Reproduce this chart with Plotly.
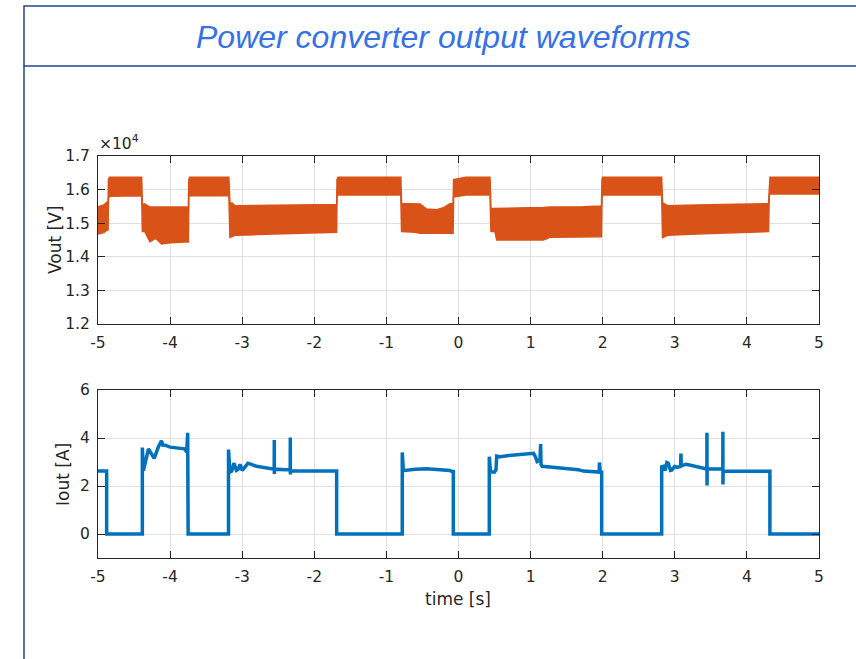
import plotly.graph_objects as go

# ---------------- data ----------------
# Vout envelope (volts) of the dense switching band
vout_t = [-5.00, -4.95, -4.92, -4.87, -4.86, -4.855, -4.84, -4.60, -4.40, -4.394,
          -4.385, -4.35, -4.28, -4.20, -4.12, -4.00, -3.80, -3.747, -3.74, -3.73,
          -3.50, -3.20, -3.185, -3.17, -3.14, -3.10, -2.80, -2.40, -2.00, -1.70,
          -1.69, -1.685, -1.67, -1.20, -0.81, -0.80, -0.79, -0.60, -0.534, -0.44,
          -0.30, -0.20, -0.12, -0.08, -0.075, -0.068, 0.10, 0.30, 0.425, 0.437,
          0.45, 0.506, 0.53, 0.80, 1.176, 1.269, 1.731, 1.95, 1.983, 1.99,
          2.00, 2.40, 2.81, 2.818, 2.83, 2.90, 3.30, 3.80, 4.25, 4.30,
          4.31, 4.32, 4.60, 5.00]
vout_hi = [15490, 15520, 15540, 15640, 15640, 16300, 16370, 16370, 16370, 16370,
           15570, 15570, 15480, 15480, 15480, 15480, 15480, 15480, 16300, 16370,
           16370, 16370, 16370, 15600, 15600, 15520, 15530, 15540, 15550, 15560,
           15560, 16300, 16370, 16370, 16370, 16370, 15590, 15590, 15570, 15420,
           15400, 15470, 15580, 15590, 15590, 16300, 16370, 16370, 16370, 16370,
           15440, 15440, 15440, 15450, 15470, 15480, 15490, 15510, 15510, 16300,
           16370, 16370, 16370, 16370, 15610, 15520, 15540, 15550, 15580, 15590,
           16300, 16370, 16370, 16370]
vout_lo = [14680, 14700, 14720, 14800, 14800, 15750, 15800, 15810, 15810, 15810,
           14750, 14750, 14450, 14550, 14380, 14420, 14440, 14440, 15780, 15820,
           15820, 15820, 15820, 14580, 14600, 14640, 14660, 14680, 14700, 14730,
           14730, 15780, 15840, 15840, 15840, 15840, 14750, 14730, 14700, 14700,
           14700, 14700, 14700, 14700, 14700, 15780, 15840, 15840, 15840, 15840,
           14750, 14750, 14500, 14500, 14500, 14580, 14580, 14600, 14600, 15780,
           15840, 15840, 15840, 15840, 14570, 14640, 14680, 14710, 14740, 14750,
           15800, 15870, 15870, 15870]

# Iout trace (amps)
iout_t = [-5.00, -4.88, -4.88, -4.385, -4.385, -4.37, -4.35, -4.30, -4.26, -4.22,
          -4.16, -4.12, -4.10, -4.07, -4.00, -3.80, -3.77, -3.756, -3.75,
          -3.19, -3.19, -3.17, -3.145, -3.115, -3.08, -3.055, -3.03, -3.00, -2.96,
          -2.92, -2.80, -2.65, -2.556, -2.555, -2.554, -2.552, -2.40, -2.334, -2.333,
          -2.332, -2.33, -1.69, -1.69,
          -0.78, -0.78, -0.765, -0.60, -0.44, -0.25, -0.12, -0.09, -0.072, -0.072,
          0.427, 0.427, 0.445, 0.50, 0.52, 0.53, 0.58, 0.70, 0.81, 1.04,
          1.07, 1.09, 1.13, 1.139, 1.145, 1.16, 1.27, 1.50, 1.66, 1.73,
          1.92, 1.95, 1.955, 1.965, 1.986, 1.986,
          2.818, 2.818, 2.84, 2.864, 2.89, 2.91, 2.94, 2.956, 3.00, 3.03,
          3.08, 3.085, 3.09, 3.16, 3.30, 3.445, 3.446, 3.447, 3.449, 3.60,
          3.666, 3.667, 3.668, 3.67, 4.319, 4.319, 5.00]
iout_v = [2.62, 2.62, 0.00, 0.00, 3.60, 2.64, 2.90, 3.55, 3.35, 3.15,
          3.65, 3.88, 3.70, 3.70, 3.62, 3.55, 3.42, 4.22, 0.00,
          0.00, 3.52, 2.58, 2.62, 2.95, 2.65, 2.70, 2.90, 2.65, 2.80,
          2.95, 2.82, 2.74, 2.70, 3.92, 2.50, 2.70, 2.68, 2.68, 4.02,
          2.48, 2.62, 2.62, 0.00,
          0.00, 3.40, 2.64, 2.70, 2.72, 2.68, 2.65, 2.60, 2.60, 0.00,
          0.00, 3.22, 2.58, 2.58, 2.68, 3.25, 3.22, 3.27, 3.31, 3.36,
          3.20, 3.02, 3.08, 3.75, 2.90, 2.82, 2.79, 2.72, 2.68, 2.62,
          2.56, 2.58, 2.98, 2.60, 2.58, 0.00,
          0.00, 2.80, 2.82, 2.64, 2.98, 2.95, 2.65, 2.66, 2.82, 2.78,
          2.82, 3.35, 2.85, 2.90, 2.80, 2.71, 4.22, 2.02, 2.72, 2.71,
          2.71, 4.26, 2.06, 2.62, 2.61, 0.00, 0.00]

x_ticks = [-5, -4, -3, -2, -1, 0, 1, 2, 3, 4, 5]
x_ticktext = ["-5", "-4", "-3", "-2", "-1", "0", "1", "2", "3", "4", "5"]
vout_ticks = [12000, 13000, 14000, 15000, 16000, 17000]
vout_ticktext = ["1.2", "1.3", "1.4", "1.5", "1.6", "1.7"]
iout_ticks = [0, 2, 4, 6]
iout_ticktext = ["0", "2", "4", "6"]

title_text = "Power converter output waveforms"
vout_label = "Vout [V]"
iout_label = "Iout [A]"
time_label = "time [s]"

# ---------------- figure ----------------
W, H = 856, 659
ORANGE = "#D95319"
BLUE = "#0072BD"
AX = "#262626"
GRID = "#e0e0e0"
FONT = "DejaVu Sans"
TICK_SIZE = 15.5
LABEL_SIZE = 17

fig = go.Figure()
fig.add_trace(go.Scatter(x=vout_t, y=vout_lo, mode="lines",
                         line=dict(color=ORANGE, width=1.5), xaxis="x", yaxis="y",
                         showlegend=False, hoverinfo="skip"))
fig.add_trace(go.Scatter(x=vout_t, y=vout_hi, mode="lines", fill="tonexty",
                         fillcolor=ORANGE,
                         line=dict(color=ORANGE, width=1.5), xaxis="x", yaxis="y",
                         showlegend=False, hoverinfo="skip"))
fig.add_trace(go.Scatter(x=iout_t, y=iout_v, mode="lines",
                         line=dict(color=BLUE, width=3.5), xaxis="x2", yaxis="y2",
                         showlegend=False))

xl, xr = 98 / W, 819 / W
top_dom = [1 - 324 / H, 1 - 156 / H]
bot_dom = [1 - 558 / H, 1 - 390 / H]

axis_common = dict(showline=True, linecolor=AX, linewidth=1, mirror="ticks",
                   ticks="inside", ticklen=7, tickcolor=AX, showgrid=True,
                   gridcolor=GRID, gridwidth=1, zeroline=False, automargin=False,
                   ticklabelstandoff=4,
                   tickfont=dict(family=FONT, size=TICK_SIZE, color=AX))

fig.update_layout(
    width=W, height=H,
    margin=dict(l=0, r=0, t=0, b=0),
    paper_bgcolor="white", plot_bgcolor="white",
    xaxis=dict(domain=[xl, xr], range=[-5, 5], tickvals=x_ticks,
               ticktext=x_ticktext, anchor="y", **axis_common),
    yaxis=dict(domain=top_dom, range=[12000, 17000], tickvals=vout_ticks,
               ticktext=vout_ticktext, anchor="x", **axis_common),
    xaxis2=dict(domain=[xl, xr], range=[-5, 5], tickvals=x_ticks,
                ticktext=x_ticktext, anchor="y2", **axis_common),
    yaxis2=dict(domain=bot_dom, range=[-1, 6], tickvals=iout_ticks,
                ticktext=iout_ticktext, anchor="x2", **axis_common),
    shapes=[
        dict(type="rect", xref="paper", yref="paper",
             x0=24 / W, x1=1.05, y0=1 - 66 / H, y1=1 - 6 / H,
             line=dict(color="#24458f", width=1.5), fillcolor="rgba(0,0,0,0)"),
        dict(type="line", xref="paper", yref="paper",
             x0=24 / W, x1=24 / W, y0=-0.05, y1=1 - 66 / H,
             line=dict(color="#24458f", width=1.5)),
    ],
    annotations=[
        dict(text=title_text, xref="paper", yref="paper", x=443 / W, y=1 - 37 / H,
             xanchor="center", yanchor="middle", showarrow=False,
             font=dict(family="Liberation Sans", size=32, color="#3572e8",
                       style="italic")),
        dict(text="×10<sup>4</sup>", xref="paper", yref="paper", x=97 / W,
             y=1 - 155 / H, xanchor="left", yanchor="bottom", showarrow=False,
             font=dict(family=FONT, size=15.5, color=AX)),
        dict(text=vout_label, xref="paper", yref="paper", x=55 / W,
             y=1 - 240 / H, xanchor="center", yanchor="middle", textangle=-90,
             showarrow=False, font=dict(family=FONT, size=LABEL_SIZE, color=AX)),
        dict(text=iout_label, xref="paper", yref="paper", x=63 / W,
             y=1 - 474 / H, xanchor="center", yanchor="middle", textangle=-90,
             showarrow=False, font=dict(family=FONT, size=LABEL_SIZE, color=AX)),
        dict(text=time_label, xref="paper", yref="paper", x=458 / W,
             y=1 - 599 / H, xanchor="center", yanchor="middle",
             showarrow=False, font=dict(family=FONT, size=LABEL_SIZE, color=AX)),
    ],
)

fig.write_html("out.html")
